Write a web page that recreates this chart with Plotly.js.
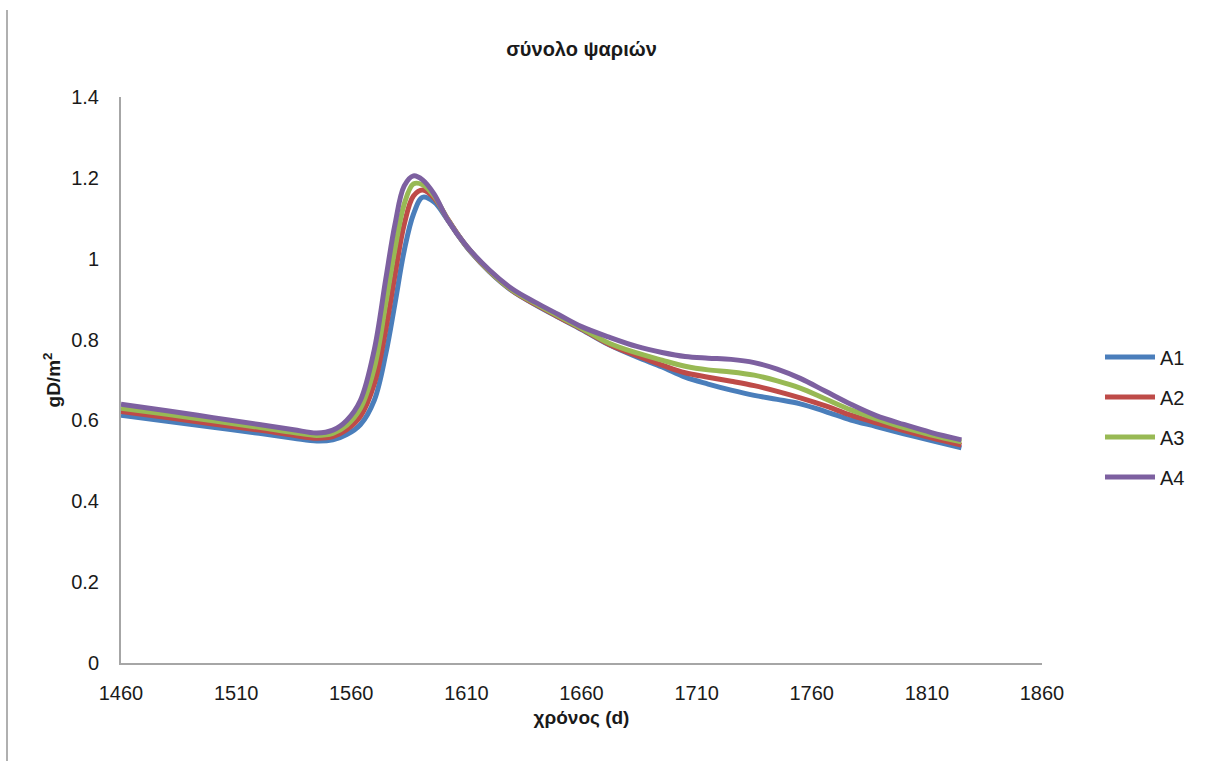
<!DOCTYPE html>
<html>
<head>
<meta charset="utf-8">
<script src="https://cdn.plot.ly/plotly-3.0.1.min.js"></script>
<style>html,body{margin:0;padding:0;background:#fff;}#chart{width:1213px;height:761px;}</style>
</head>
<body>
<div id="chart"></div>
<script>
const days = [1460, 1480, 1500, 1520, 1535, 1545, 1552, 1558, 1564, 1570, 1575, 1579, 1583, 1587, 1591, 1596, 1602, 1610, 1620, 1630, 1640, 1650, 1660, 1672, 1684, 1695, 1705, 1715, 1725, 1735, 1745, 1755, 1766, 1777, 1788, 1800, 1812, 1825];

const A1 = [0.613, 0.598, 0.583, 0.568, 0.556, 0.549, 0.552, 0.565, 0.590, 0.650, 0.765, 0.890, 1.020, 1.110, 1.152, 1.140, 1.095, 1.030, 0.968, 0.920, 0.886, 0.855, 0.825, 0.787, 0.757, 0.732, 0.707, 0.690, 0.675, 0.662, 0.652, 0.641, 0.622, 0.601, 0.585, 0.567, 0.550, 0.532];
const A2 = [0.622, 0.607, 0.591, 0.576, 0.563, 0.556, 0.560, 0.577, 0.610, 0.690, 0.825, 0.960, 1.085, 1.155, 1.170, 1.150, 1.097, 1.031, 0.969, 0.921, 0.887, 0.856, 0.826, 0.788, 0.760, 0.737, 0.718, 0.707, 0.697, 0.686, 0.672, 0.656, 0.636, 0.613, 0.594, 0.575, 0.557, 0.539];
const A3 = [0.630, 0.615, 0.599, 0.583, 0.570, 0.563, 0.568, 0.588, 0.630, 0.730, 0.890, 1.025, 1.135, 1.185, 1.183, 1.155, 1.096, 1.031, 0.970, 0.922, 0.889, 0.858, 0.828, 0.791, 0.767, 0.749, 0.734, 0.725, 0.720, 0.712, 0.698, 0.680, 0.653, 0.626, 0.604, 0.582, 0.564, 0.547];
const A4 = [0.640, 0.624, 0.607, 0.590, 0.577, 0.569, 0.576, 0.600, 0.650, 0.775, 0.950, 1.085, 1.180, 1.205, 1.195, 1.160, 1.095, 1.032, 0.972, 0.925, 0.892, 0.862, 0.832, 0.806, 0.783, 0.768, 0.758, 0.754, 0.751, 0.743, 0.727, 0.704, 0.672, 0.640, 0.612, 0.590, 0.570, 0.552];

const seriesNames = ['A1', 'A2', 'A3', 'A4'];
const seriesValues = [A1, A2, A3, A4];
const seriesColors = ['#4A7EBB', '#BE4B48', '#98B954', '#7D60A0'];

const titleText = 'σύνολο ψαριών';
const xTitle = 'χρόνος (d)';
const yTitle = 'gD/m<sup>2</sup>';

const FONT = 'Liberation Sans, Arial, sans-serif';

const traces = seriesNames.map((name, i) => ({
  x: days,
  y: seriesValues[i],
  name: name,
  legendgroup: name,
  type: 'scatter',
  mode: 'lines',
  line: {color: seriesColors[i], width: 5, shape: 'spline', smoothing: 1},
  hoverinfo: 'x+y+name'
}));

const layout = {
  width: 1213,
  height: 761,
  margin: {l: 121, r: 171, t: 97, b: 98, pad: 0},
  paper_bgcolor: '#ffffff',
  plot_bgcolor: '#ffffff',
  font: {family: FONT, color: '#1a1a1a', size: 20},
  title: {
    text: '<b>' + titleText + '</b>',
    font: {family: FONT, size: 20, color: '#1a1a1a'},
    x: 0.5, xref: 'paper', xanchor: 'center',
    y: 52, yref: 'container', yanchor: 'middle'
  },
  xaxis: {
    range: [1460, 1860],
    dtick: 50,
    tick0: 1460,
    tickmode: 'linear',
    showgrid: false,
    zeroline: false,
    showline: true,
    linecolor: '#a6a6a6',
    linewidth: 2,
    ticks: '',
    ticklabelstandoff: 11,
    tickfont: {family: FONT, size: 20, color: '#1a1a1a'},
    title: {text: '<b>' + xTitle + '</b>', font: {family: FONT, size: 19, color: '#1a1a1a'}, standoff: 8}
  },
  yaxis: {
    range: [0, 1.4],
    dtick: 0.2,
    tick0: 0,
    tickmode: 'linear',
    showgrid: false,
    zeroline: false,
    showline: true,
    linecolor: '#a6a6a6',
    linewidth: 2,
    ticks: '',
    ticklabelstandoff: 16,
    tickfont: {family: FONT, size: 20, color: '#1a1a1a'},
    title: {text: '<b>' + yTitle + '</b>', font: {family: FONT, size: 19, color: '#1a1a1a'}, standoff: 6}
  },
  showlegend: true,
  legend: {
    x: (1100 - 121) / 921,
    xanchor: 'left',
    y: (663 - 417) / 566,
    yanchor: 'middle',
    font: {family: FONT, size: 20, color: '#1a1a1a'},
    tracegroupgap: 11,
    itemwidth: 50,
    bgcolor: 'rgba(0,0,0,0)'
  },
  shapes: [{
    type: 'line', xref: 'paper', yref: 'paper',
    x0: (7 - 121) / 921, x1: (7 - 121) / 921,
    y0: (663 - 10) / 566, y1: (663 - 761) / 566,
    line: {color: '#b0b0b0', width: 2}
  }]
};

Plotly.newPlot('chart', traces, layout, {displayModeBar: false, staticPlot: true});
</script>
</body>
</html>
